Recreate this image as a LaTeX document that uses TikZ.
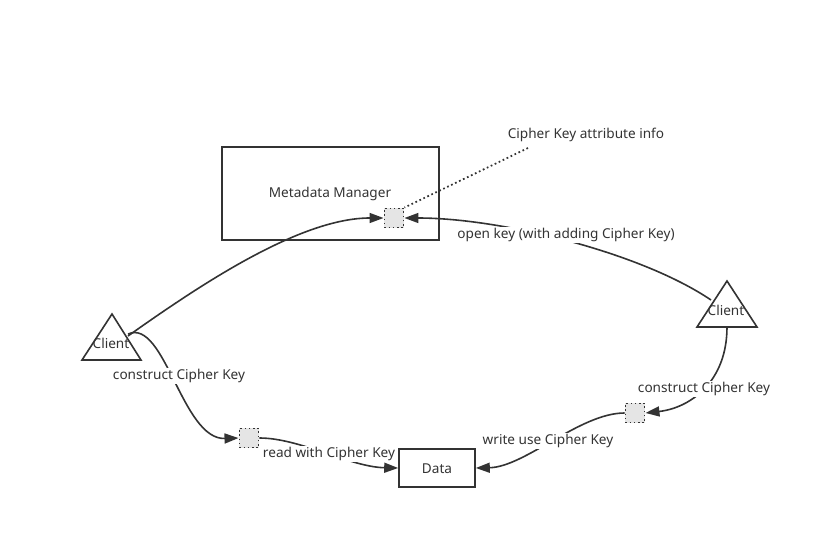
\documentclass[tikz,border=0pt]{standalone}
\usepackage{fontspec}
\setmainfont{Noto Sans}
\usetikzlibrary{arrows.meta}
\definecolor{ink}{HTML}{333333}
\begin{document}
\begin{tikzpicture}[x=0.75pt,y=-0.75pt,
  every node/.style={font=\fontsize{10.2}{12}\selectfont, text=ink},
  box/.style={draw=ink, line width=1.2pt, inner sep=0pt},
  keysq/.style={draw=ink, dotted, line width=1.2pt, fill=black!10, minimum width=14.5pt, minimum height=14.5pt, inner sep=0pt},
  conn/.style={draw=ink, line width=1.2pt, -{Triangle[length=10.5pt,width=7.5pt]}},
  lbl/.style={fill=white, inner sep=1pt},
  tri/.style={draw=ink, line width=1.2pt, fill=white}]
\useasboundingbox (0,0) rectangle (819,550);

% Metadata manager
\node[box, minimum width=162.75pt, minimum height=69.75pt] (mm) at (330.5,193.5) {};
\node (mmt) at (330,194) {Metadata Manager};
\node[keysq] (k1) at (394,218) {};
\node (attr) at (586,135) {Cipher Key attribute info};
\coordinate (attrend) at (528,148);

% Data
\node[box, minimum width=57pt, minimum height=28.5pt] (data) at (437,468) {};
\node (datat) at (437,469) {Data};

% key squares
\node[keysq] (k2) at (249,438) {};
\node[keysq] (k3) at (635,413) {};

% clients
\draw[tri] (112,314) -- (141,360) -- (82,360) -- cycle;
\node[inner sep=0pt] (cl) at (111,343) {Client};
\draw[tri] (727,281) -- (757,327) -- (697,327) -- cycle;
\node[inner sep=0pt] (cr) at (726,310) {Client};
\coordinate (clA) at (128,336);
\coordinate (clB) at (128,334);
\coordinate (crA) at (711,300);
\coordinate (crB) at (727,327);

% dotted pointer
\draw[ink, dotted, line width=1.3pt] (attrend) -- (k1.north east);

% connectors
\draw[conn] (clA) .. controls (200,285) and (300,218) .. (k1.west);
\draw[conn] (crA) .. controls (640,252) and (500,218) .. (k1.east);
\node[lbl] (l1) at (566,235) {open key (with adding Cipher Key)};

\draw[conn] (clB) .. controls (165,318) and (182,440) .. (k2.west);
\node[lbl] (l2) at (179,376) {construct Cipher Key};

\draw[conn] (k2.east) .. controls (300,438) and (350,467) .. (data.west);
\node[lbl] (l3) at (329,454) {read with Cipher Key};

\draw[conn] (crB) .. controls (727,382) and (690,408) .. (k3.east);
\node[lbl] (l4) at (704,389) {construct Cipher Key};

\draw[conn] (k3.west) .. controls (580,413) and (525,467) .. (data.east);
\node[lbl] (l5) at (548,441) {write use Cipher Key};
\end{tikzpicture}
\end{document}
